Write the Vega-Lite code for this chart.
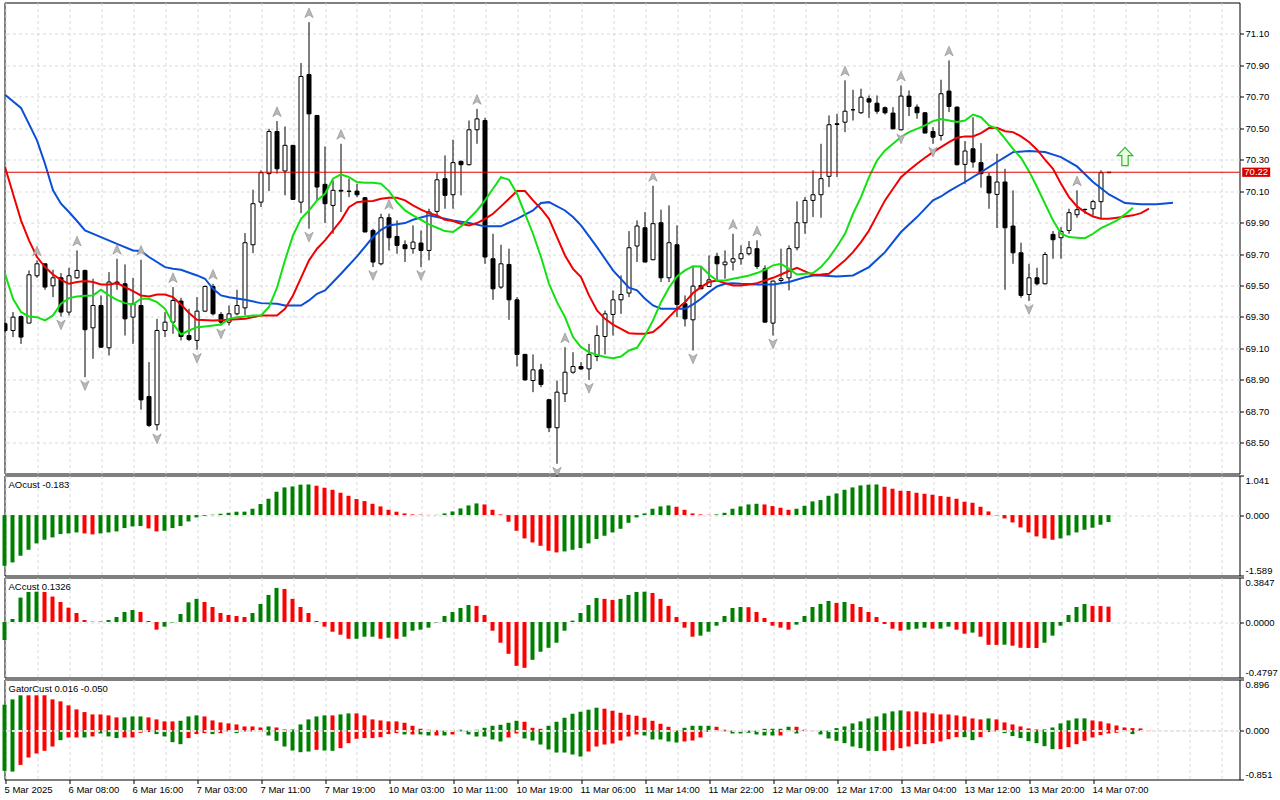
{
  "$schema": "https://vega.github.io/schema/vega-lite/v6.json",
  "background": "#ffffff",
  "padding": {"left": 1.5, "top": 1.5, "right": 0, "bottom": 0},
  "spacing": 2,
  "bounds": "flush",
  "config": {
    "view": {"stroke": "#000000", "strokeWidth": 1},
    "font": "Liberation Sans",
    "scale": {"continuousPadding": 0},
    "axis": {
      "labelFont": "Liberation Sans",
      "labelFontSize": 9.5,
      "labelColor": "#000000",
      "tickColor": "#000000",
      "tickSize": 4,
      "tickCount": 200,
      "gridColor": "#d9d9d9",
      "gridDash": [3, 3],
      "domain": false,
      "labelOverlap": false
    }
  },
  "datasets": {
    "candles": [
      {"i":0,"o":69.257,"h":69.267,"l":69.204,"c":69.214},
      {"i":1,"o":69.214,"h":69.331,"l":69.172,"c":69.299},
      {"i":2,"o":69.303,"h":69.310,"l":69.129,"c":69.172},
      {"i":3,"o":69.261,"h":69.596,"l":69.261,"c":69.568},
      {"i":4,"o":69.562,"h":69.660,"l":69.549,"c":69.638,"fu":1},
      {"i":5,"o":69.638,"h":69.638,"l":69.473,"c":69.490},
      {"i":6,"o":69.498,"h":69.600,"l":69.426,"c":69.549},
      {"i":7,"o":69.549,"h":69.579,"l":69.303,"c":69.331,"fd":1},
      {"i":8,"o":69.331,"h":69.613,"l":69.310,"c":69.562},
      {"i":9,"o":69.549,"h":69.723,"l":69.543,"c":69.596,"fu":1},
      {"i":10,"o":69.596,"h":69.600,"l":68.917,"c":69.219,"fd":1},
      {"i":11,"o":69.231,"h":69.543,"l":69.034,"c":69.373},
      {"i":12,"o":69.373,"h":69.437,"l":69.104,"c":69.108},
      {"i":13,"o":69.104,"h":69.585,"l":69.055,"c":69.522},
      {"i":14,"o":69.522,"h":69.670,"l":69.473,"c":69.511,"fu":1},
      {"i":15,"o":69.511,"h":69.634,"l":69.182,"c":69.288},
      {"i":16,"o":69.299,"h":69.549,"l":69.129,"c":69.384},
      {"i":17,"o":69.373,"h":69.664,"l":68.711,"c":68.773,"fu":1},
      {"i":18,"o":68.794,"h":69.013,"l":68.600,"c":68.611},
      {"i":19,"o":68.615,"h":69.288,"l":68.579,"c":69.214,"fd":1},
      {"i":20,"o":69.214,"h":69.331,"l":69.172,"c":69.267},
      {"i":21,"o":69.267,"h":69.490,"l":69.193,"c":69.405,"fu":1},
      {"i":22,"o":69.401,"h":69.422,"l":69.151,"c":69.176},
      {"i":23,"o":69.182,"h":69.352,"l":69.146,"c":69.157},
      {"i":24,"o":69.151,"h":69.426,"l":69.091,"c":69.337,"fd":1},
      {"i":25,"o":69.337,"h":69.500,"l":69.331,"c":69.494},
      {"i":26,"o":69.494,"h":69.511,"l":69.310,"c":69.320,"fu":1},
      {"i":27,"o":69.316,"h":69.331,"l":69.246,"c":69.267,"fd":1},
      {"i":28,"o":69.267,"h":69.373,"l":69.246,"c":69.320},
      {"i":29,"o":69.320,"h":69.473,"l":69.310,"c":69.373},
      {"i":30,"o":69.358,"h":69.833,"l":69.310,"c":69.772},
      {"i":31,"o":69.759,"h":70.109,"l":69.706,"c":70.020},
      {"i":32,"o":70.030,"h":70.232,"l":69.999,"c":70.217},
      {"i":33,"o":70.211,"h":70.496,"l":70.100,"c":70.479},
      {"i":34,"o":70.479,"h":70.545,"l":70.211,"c":70.242,"fu":1},
      {"i":35,"o":70.228,"h":70.511,"l":70.073,"c":70.391},
      {"i":36,"o":70.391,"h":70.391,"l":70.047,"c":70.047},
      {"i":37,"o":70.030,"h":70.914,"l":69.960,"c":70.829},
      {"i":38,"o":70.841,"h":71.174,"l":69.861,"c":70.591,"fu":1,"fd":1},
      {"i":39,"o":70.581,"h":70.581,"l":70.041,"c":70.126},
      {"i":40,"o":70.143,"h":70.384,"l":69.897,"c":70.020},
      {"i":41,"o":70.009,"h":70.168,"l":69.829,"c":70.105},
      {"i":42,"o":70.105,"h":70.401,"l":69.967,"c":70.100,"fu":1},
      {"i":43,"o":70.100,"h":70.179,"l":70.062,"c":70.098},
      {"i":44,"o":70.100,"h":70.147,"l":70.062,"c":70.077},
      {"i":45,"o":70.058,"h":70.062,"l":69.840,"c":69.840},
      {"i":46,"o":69.850,"h":69.861,"l":69.617,"c":69.649,"fd":1},
      {"i":47,"o":69.638,"h":69.956,"l":69.628,"c":69.931},
      {"i":48,"o":69.931,"h":69.956,"l":69.723,"c":69.804,"fu":1},
      {"i":49,"o":69.812,"h":69.914,"l":69.702,"c":69.755},
      {"i":50,"o":69.759,"h":69.787,"l":69.649,"c":69.734},
      {"i":51,"o":69.734,"h":69.882,"l":69.702,"c":69.776},
      {"i":52,"o":69.770,"h":69.850,"l":69.617,"c":69.723,"fd":1},
      {"i":53,"o":69.723,"h":69.988,"l":69.660,"c":69.967},
      {"i":54,"o":69.971,"h":70.215,"l":69.935,"c":70.172},
      {"i":55,"o":70.179,"h":70.327,"l":69.988,"c":70.073},
      {"i":56,"o":70.077,"h":70.427,"l":69.988,"c":70.281},
      {"i":57,"o":70.289,"h":70.295,"l":70.073,"c":70.268},
      {"i":58,"o":70.268,"h":70.549,"l":70.263,"c":70.490},
      {"i":59,"o":70.490,"h":70.623,"l":70.401,"c":70.559,"fu":1},
      {"i":60,"o":70.549,"h":70.566,"l":69.638,"c":69.681},
      {"i":61,"o":69.670,"h":69.829,"l":69.409,"c":69.479},
      {"i":62,"o":69.490,"h":69.759,"l":69.479,"c":69.638},
      {"i":63,"o":69.634,"h":69.734,"l":69.282,"c":69.409},
      {"i":64,"o":69.409,"h":69.426,"l":68.985,"c":69.062},
      {"i":65,"o":69.062,"h":69.066,"l":68.896,"c":68.900},
      {"i":66,"o":68.896,"h":69.062,"l":68.822,"c":68.964},
      {"i":67,"o":68.964,"h":69.002,"l":68.854,"c":68.871},
      {"i":68,"o":68.774,"h":68.780,"l":68.568,"c":68.596},
      {"i":69,"o":68.596,"h":68.896,"l":68.367,"c":68.822,"fd":1},
      {"i":70,"o":68.812,"h":69.108,"l":68.759,"c":68.949,"fu":1},
      {"i":71,"o":68.949,"h":69.076,"l":68.939,"c":68.985},
      {"i":72,"o":68.985,"h":69.013,"l":68.964,"c":68.970},
      {"i":73,"o":68.970,"h":69.129,"l":68.900,"c":69.062,"fd":1},
      {"i":74,"o":69.049,"h":69.246,"l":69.019,"c":69.182},
      {"i":75,"o":69.176,"h":69.341,"l":69.062,"c":69.320},
      {"i":76,"o":69.316,"h":69.469,"l":69.182,"c":69.409},
      {"i":77,"o":69.409,"h":69.564,"l":69.320,"c":69.443},
      {"i":78,"o":69.452,"h":69.846,"l":69.426,"c":69.740},
      {"i":79,"o":69.751,"h":69.914,"l":69.649,"c":69.878},
      {"i":80,"o":69.867,"h":69.967,"l":69.649,"c":69.649},
      {"i":81,"o":69.664,"h":70.134,"l":69.660,"c":69.893,"fu":1},
      {"i":82,"o":69.899,"h":69.982,"l":69.522,"c":69.549},
      {"i":83,"o":69.549,"h":70.009,"l":69.522,"c":69.772},
      {"i":84,"o":69.759,"h":69.882,"l":69.299,"c":69.380},
      {"i":85,"o":69.384,"h":69.437,"l":69.240,"c":69.288},
      {"i":86,"o":69.282,"h":69.617,"l":69.087,"c":69.496,"fd":1},
      {"i":87,"o":69.500,"h":69.617,"l":69.479,"c":69.479},
      {"i":88,"o":69.494,"h":69.691,"l":69.490,"c":69.536},
      {"i":89,"o":69.685,"h":69.708,"l":69.532,"c":69.638},
      {"i":90,"o":69.632,"h":69.723,"l":69.543,"c":69.649},
      {"i":91,"o":69.649,"h":69.829,"l":69.596,"c":69.670,"fu":1},
      {"i":92,"o":69.670,"h":69.755,"l":69.632,"c":69.702},
      {"i":93,"o":69.702,"h":69.782,"l":69.691,"c":69.740},
      {"i":94,"o":69.734,"h":69.787,"l":69.606,"c":69.621,"fu":1},
      {"i":95,"o":69.606,"h":69.628,"l":69.267,"c":69.267},
      {"i":96,"o":69.261,"h":69.532,"l":69.182,"c":69.528,"fd":1},
      {"i":97,"o":69.532,"h":69.734,"l":69.511,"c":69.543},
      {"i":98,"o":69.549,"h":69.755,"l":69.469,"c":69.734},
      {"i":99,"o":69.740,"h":70.035,"l":69.723,"c":69.899},
      {"i":100,"o":69.899,"h":70.062,"l":69.829,"c":70.041},
      {"i":101,"o":70.041,"h":70.232,"l":69.935,"c":70.077},
      {"i":102,"o":70.077,"h":70.401,"l":69.931,"c":70.179},
      {"i":103,"o":70.194,"h":70.581,"l":70.126,"c":70.522},
      {"i":104,"o":70.528,"h":70.591,"l":70.190,"c":70.524},
      {"i":105,"o":70.538,"h":70.804,"l":70.475,"c":70.608,"fu":1},
      {"i":106,"o":70.617,"h":70.744,"l":70.549,"c":70.617},
      {"i":107,"o":70.598,"h":70.751,"l":70.591,"c":70.697},
      {"i":108,"o":70.687,"h":70.708,"l":70.566,"c":70.666},
      {"i":109,"o":70.659,"h":70.708,"l":70.591,"c":70.608},
      {"i":110,"o":70.630,"h":70.638,"l":70.587,"c":70.598},
      {"i":111,"o":70.596,"h":70.634,"l":70.492,"c":70.496},
      {"i":112,"o":70.490,"h":70.772,"l":70.486,"c":70.704,"fu":1,"fd":1},
      {"i":113,"o":70.704,"h":70.740,"l":70.577,"c":70.638},
      {"i":114,"o":70.634,"h":70.651,"l":70.560,"c":70.598},
      {"i":115,"o":70.598,"h":70.602,"l":70.469,"c":70.469},
      {"i":116,"o":70.479,"h":70.507,"l":70.401,"c":70.443,"fd":1},
      {"i":117,"o":70.454,"h":70.808,"l":70.422,"c":70.719},
      {"i":118,"o":70.736,"h":70.931,"l":70.602,"c":70.638,"fu":1},
      {"i":119,"o":70.634,"h":70.638,"l":70.263,"c":70.268},
      {"i":120,"o":70.270,"h":70.418,"l":70.147,"c":70.355},
      {"i":121,"o":70.369,"h":70.570,"l":70.249,"c":70.285},
      {"i":122,"o":70.281,"h":70.405,"l":70.122,"c":70.211},
      {"i":123,"o":70.194,"h":70.215,"l":69.988,"c":70.088},
      {"i":124,"o":70.079,"h":70.337,"l":69.865,"c":70.158},
      {"i":125,"o":70.158,"h":70.242,"l":69.473,"c":69.867},
      {"i":126,"o":69.878,"h":70.105,"l":69.638,"c":69.708},
      {"i":127,"o":69.708,"h":69.772,"l":69.422,"c":69.437},
      {"i":128,"o":69.443,"h":69.638,"l":69.401,"c":69.549,"fd":1},
      {"i":129,"o":69.549,"h":69.613,"l":69.500,"c":69.511},
      {"i":130,"o":69.511,"h":69.712,"l":69.507,"c":69.697},
      {"i":131,"o":69.825,"h":69.846,"l":69.670,"c":69.791},
      {"i":132,"o":69.804,"h":69.871,"l":69.670,"c":69.844},
      {"i":133,"o":69.850,"h":69.988,"l":69.829,"c":69.963},
      {"i":134,"o":69.950,"h":70.105,"l":69.931,"c":69.982,"fu":1},
      {"i":135,"o":69.982,"h":69.988,"l":69.956,"c":69.984},
      {"i":136,"o":69.988,"h":70.045,"l":69.946,"c":70.033},
      {"i":137,"o":70.033,"h":70.232,"l":69.925,"c":70.217},
      {"i":138,"o":70.217,"h":70.222,"l":70.215,"c":70.220}
    ],
    "jaw": [
      {"i":0,"v":70.712},{"i":2,"v":70.629},{"i":4,"v":70.423},{"i":5,"v":70.274},{"i":6,"v":70.105},{"i":7,"v":70.020},{"i":8,"v":69.967},{"i":9,"v":69.910},{"i":10,"v":69.850},{"i":12,"v":69.808},{"i":14,"v":69.765},{"i":16,"v":69.723},{"i":17,"v":69.719},{"i":18,"v":69.681},{"i":20,"v":69.617},{"i":21,"v":69.606},{"i":22,"v":69.600},{"i":24,"v":69.564},{"i":25,"v":69.543},{"i":26,"v":69.479},{"i":27,"v":69.437},{"i":28,"v":69.426},{"i":30,"v":69.409},{"i":32,"v":69.388},{"i":34,"v":69.384},{"i":35,"v":69.373},{"i":37,"v":69.373},{"i":38,"v":69.405},{"i":39,"v":69.447},{"i":40,"v":69.469},{"i":42,"v":69.575},{"i":44,"v":69.685},{"i":46,"v":69.808},{"i":47,"v":69.854},{"i":48,"v":69.882},{"i":50,"v":69.897},{"i":51,"v":69.918},{"i":53,"v":69.946},{"i":54,"v":69.935},{"i":56,"v":69.914},{"i":58,"v":69.897},{"i":60,"v":69.876},{"i":62,"v":69.876},{"i":64,"v":69.924},{"i":66,"v":69.977},{"i":67,"v":70.024},{"i":68,"v":70.030},{"i":70,"v":69.977},{"i":71,"v":69.935},{"i":72,"v":69.882},{"i":74,"v":69.744},{"i":76,"v":69.596},{"i":78,"v":69.486},{"i":79,"v":69.469},{"i":80,"v":69.416},{"i":81,"v":69.373},{"i":82,"v":69.352},{"i":84,"v":69.352},{"i":85,"v":69.352},{"i":86,"v":69.380},{"i":87,"v":69.416},{"i":88,"v":69.458},{"i":89,"v":69.494},{"i":90,"v":69.511},{"i":91,"v":69.515},{"i":92,"v":69.511},{"i":94,"v":69.507},{"i":96,"v":69.507},{"i":98,"v":69.522},{"i":100,"v":69.553},{"i":101,"v":69.564},{"i":102,"v":69.564},{"i":104,"v":69.558},{"i":106,"v":69.564},{"i":108,"v":69.617},{"i":110,"v":69.712},{"i":112,"v":69.840},{"i":114,"v":69.935},{"i":116,"v":70.041},{"i":117,"v":70.066},{"i":118,"v":70.100},{"i":120,"v":70.158},{"i":122,"v":70.221},{"i":124,"v":70.285},{"i":125,"v":70.316},{"i":126,"v":70.348},{"i":128,"v":70.355},{"i":130,"v":70.348},{"i":132,"v":70.316},{"i":134,"v":70.257},{"i":136,"v":70.158},{"i":138,"v":70.079},{"i":140,"v":70.024},{"i":142,"v":70.016},{"i":144,"v":70.016},{"i":146,"v":70.026}
    ],
    "teeth": [
      {"i":0,"v":70.253},{"i":1,"v":70.083},{"i":2,"v":69.914},{"i":3,"v":69.787},{"i":4,"v":69.681},{"i":5,"v":69.617},{"i":6,"v":69.570},{"i":7,"v":69.536},{"i":8,"v":69.511},{"i":9,"v":69.522},{"i":10,"v":69.528},{"i":11,"v":69.522},{"i":12,"v":69.507},{"i":13,"v":69.507},{"i":14,"v":69.515},{"i":15,"v":69.490},{"i":16,"v":69.464},{"i":17,"v":69.437},{"i":18,"v":69.430},{"i":19,"v":69.443},{"i":20,"v":69.443},{"i":21,"v":69.426},{"i":22,"v":69.380},{"i":23,"v":69.325},{"i":24,"v":69.282},{"i":26,"v":69.278},{"i":28,"v":69.282},{"i":30,"v":69.288},{"i":32,"v":69.310},{"i":34,"v":69.310},{"i":35,"v":69.352},{"i":36,"v":69.437},{"i":37,"v":69.549},{"i":38,"v":69.660},{"i":39,"v":69.734},{"i":40,"v":69.787},{"i":41,"v":69.850},{"i":42,"v":69.914},{"i":43,"v":69.998},{"i":44,"v":70.030},{"i":45,"v":70.035},{"i":46,"v":70.037},{"i":47,"v":70.052},{"i":48,"v":70.058},{"i":49,"v":70.058},{"i":50,"v":70.041},{"i":51,"v":70.009},{"i":52,"v":69.982},{"i":53,"v":69.960},{"i":54,"v":69.946},{"i":55,"v":69.918},{"i":56,"v":69.910},{"i":57,"v":69.893},{"i":58,"v":69.882},{"i":59,"v":69.897},{"i":60,"v":69.924},{"i":61,"v":69.956},{"i":62,"v":70.003},{"i":63,"v":70.052},{"i":64,"v":70.100},{"i":65,"v":70.100},{"i":66,"v":70.041},{"i":67,"v":69.988},{"i":68,"v":69.924},{"i":69,"v":69.808},{"i":70,"v":69.691},{"i":71,"v":69.606},{"i":72,"v":69.553},{"i":73,"v":69.437},{"i":74,"v":69.341},{"i":75,"v":69.288},{"i":76,"v":69.252},{"i":77,"v":69.225},{"i":78,"v":69.197},{"i":79,"v":69.193},{"i":80,"v":69.193},{"i":81,"v":69.204},{"i":82,"v":69.246},{"i":83,"v":69.299},{"i":84,"v":69.352},{"i":85,"v":69.394},{"i":86,"v":69.452},{"i":87,"v":69.490},{"i":88,"v":69.522},{"i":89,"v":69.532},{"i":90,"v":69.515},{"i":91,"v":69.500},{"i":92,"v":69.500},{"i":93,"v":69.507},{"i":94,"v":69.515},{"i":95,"v":69.532},{"i":96,"v":69.549},{"i":97,"v":69.570},{"i":98,"v":69.592},{"i":99,"v":69.612},{"i":100,"v":69.590},{"i":101,"v":69.568},{"i":102,"v":69.570},{"i":103,"v":69.575},{"i":104,"v":69.617},{"i":105,"v":69.660},{"i":106,"v":69.712},{"i":107,"v":69.776},{"i":108,"v":69.850},{"i":109,"v":69.946},{"i":110,"v":70.041},{"i":111,"v":70.115},{"i":112,"v":70.189},{"i":113,"v":70.232},{"i":114,"v":70.274},{"i":115,"v":70.312},{"i":116,"v":70.348},{"i":117,"v":70.380},{"i":118,"v":70.412},{"i":119,"v":70.439},{"i":120,"v":70.448},{"i":121,"v":70.448},{"i":122,"v":70.469},{"i":123,"v":70.501},{"i":124,"v":70.503},{"i":125,"v":70.481},{"i":126,"v":70.475},{"i":127,"v":70.448},{"i":128,"v":70.412},{"i":129,"v":70.363},{"i":130,"v":70.300},{"i":131,"v":70.242},{"i":132,"v":70.147},{"i":133,"v":70.062},{"i":134,"v":70.003},{"i":135,"v":69.967},{"i":136,"v":69.939},{"i":137,"v":69.924},{"i":138,"v":69.924},{"i":139,"v":69.931},{"i":140,"v":69.939},{"i":141,"v":69.946},{"i":142,"v":69.960},{"i":143,"v":69.988}
    ],
    "lips": [
      {"i":0,"v":69.575},{"i":1,"v":69.416},{"i":2,"v":69.331},{"i":3,"v":69.303},{"i":4,"v":69.299},{"i":5,"v":69.278},{"i":6,"v":69.310},{"i":7,"v":69.384},{"i":8,"v":69.420},{"i":9,"v":69.430},{"i":10,"v":69.435},{"i":11,"v":69.437},{"i":12,"v":69.473},{"i":13,"v":69.437},{"i":14,"v":69.409},{"i":15,"v":69.388},{"i":16,"v":69.380},{"i":17,"v":69.416},{"i":18,"v":69.416},{"i":19,"v":69.394},{"i":20,"v":69.352},{"i":21,"v":69.257},{"i":22,"v":69.189},{"i":23,"v":69.214},{"i":24,"v":69.235},{"i":25,"v":69.240},{"i":26,"v":69.246},{"i":27,"v":69.252},{"i":28,"v":69.288},{"i":29,"v":69.299},{"i":30,"v":69.303},{"i":31,"v":69.310},{"i":32,"v":69.310},{"i":33,"v":69.363},{"i":34,"v":69.486},{"i":35,"v":69.660},{"i":36,"v":69.818},{"i":37,"v":69.924},{"i":38,"v":69.977},{"i":39,"v":70.041},{"i":40,"v":70.083},{"i":41,"v":70.179},{"i":42,"v":70.206},{"i":43,"v":70.189},{"i":44,"v":70.158},{"i":45,"v":70.153},{"i":46,"v":70.153},{"i":47,"v":70.147},{"i":48,"v":70.100},{"i":49,"v":70.030},{"i":50,"v":69.977},{"i":51,"v":69.946},{"i":52,"v":69.918},{"i":53,"v":69.889},{"i":54,"v":69.867},{"i":55,"v":69.846},{"i":56,"v":69.840},{"i":57,"v":69.876},{"i":58,"v":69.924},{"i":59,"v":69.977},{"i":60,"v":70.041},{"i":61,"v":70.115},{"i":62,"v":70.189},{"i":63,"v":70.172},{"i":64,"v":70.083},{"i":65,"v":69.956},{"i":66,"v":69.829},{"i":67,"v":69.681},{"i":68,"v":69.511},{"i":69,"v":69.394},{"i":70,"v":69.299},{"i":71,"v":69.172},{"i":72,"v":69.108},{"i":73,"v":69.076},{"i":74,"v":69.059},{"i":75,"v":69.045},{"i":76,"v":69.038},{"i":77,"v":69.049},{"i":78,"v":69.087},{"i":79,"v":69.104},{"i":80,"v":69.182},{"i":81,"v":69.278},{"i":82,"v":69.394},{"i":83,"v":69.486},{"i":84,"v":69.558},{"i":85,"v":69.596},{"i":86,"v":69.623},{"i":87,"v":69.621},{"i":88,"v":69.570},{"i":89,"v":69.532},{"i":90,"v":69.532},{"i":91,"v":69.543},{"i":92,"v":69.553},{"i":93,"v":69.564},{"i":94,"v":69.579},{"i":95,"v":69.600},{"i":96,"v":69.628},{"i":97,"v":69.638},{"i":98,"v":69.606},{"i":99,"v":69.570},{"i":100,"v":69.575},{"i":101,"v":69.579},{"i":102,"v":69.617},{"i":103,"v":69.676},{"i":104,"v":69.748},{"i":105,"v":69.829},{"i":106,"v":69.956},{"i":107,"v":70.062},{"i":108,"v":70.189},{"i":109,"v":70.295},{"i":110,"v":70.359},{"i":111,"v":70.401},{"i":112,"v":70.444},{"i":113,"v":70.475},{"i":114,"v":70.496},{"i":115,"v":70.518},{"i":116,"v":70.545},{"i":117,"v":70.558},{"i":118,"v":70.549},{"i":119,"v":70.539},{"i":120,"v":70.549},{"i":121,"v":70.587},{"i":122,"v":70.570},{"i":123,"v":70.518},{"i":124,"v":70.496},{"i":125,"v":70.433},{"i":126,"v":70.369},{"i":127,"v":70.312},{"i":128,"v":70.227},{"i":129,"v":70.126},{"i":130,"v":70.020},{"i":131,"v":69.914},{"i":132,"v":69.829},{"i":133,"v":69.808},{"i":134,"v":69.804},{"i":135,"v":69.801},{"i":136,"v":69.829},{"i":137,"v":69.865},{"i":138,"v":69.889},{"i":139,"v":69.914},{"i":140,"v":69.952},{"i":141,"v":69.994}
    ],
    "bid": [{"p": 70.22, "label": "70.22"}],
    "signals": [{"i": 140, "p": 70.32}],
    "ao": [
      {"i":0,"v":-1.333,"d":"g"},{"i":1,"v":-1.245,"d":"g"},{"i":2,"v":-1.07,"d":"g"},{"i":3,"v":-0.912,"d":"g"},{"i":4,"v":-0.745,"d":"g"},{"i":5,"v":-0.649,"d":"g"},{"i":6,"v":-0.587,"d":"g"},{"i":7,"v":-0.5,"d":"g"},{"i":8,"v":-0.482,"d":"g"},{"i":9,"v":-0.456,"d":"g"},{"i":10,"v":-0.482,"d":"r"},{"i":11,"v":-0.508,"d":"r"},{"i":12,"v":-0.482,"d":"g"},{"i":13,"v":-0.456,"d":"g"},{"i":14,"v":-0.43,"d":"g"},{"i":15,"v":-0.342,"d":"g"},{"i":16,"v":-0.298,"d":"g"},{"i":17,"v":-0.289,"d":"g"},{"i":18,"v":-0.351,"d":"r"},{"i":19,"v":-0.43,"d":"r"},{"i":20,"v":-0.412,"d":"g"},{"i":21,"v":-0.342,"d":"g"},{"i":22,"v":-0.289,"d":"g"},{"i":23,"v":-0.167,"d":"g"},{"i":24,"v":-0.061,"d":"g"},{"i":25,"v":-0.02,"d":"g"},{"i":26,"v":0.01,"d":"g"},{"i":27,"v":0.035,"d":"g"},{"i":28,"v":0.06,"d":"g"},{"i":29,"v":0.088,"d":"g"},{"i":30,"v":0.09,"d":"g"},{"i":31,"v":0.167,"d":"g"},{"i":32,"v":0.29,"d":"g"},{"i":33,"v":0.43,"d":"g"},{"i":34,"v":0.614,"d":"g"},{"i":35,"v":0.728,"d":"g"},{"i":36,"v":0.754,"d":"g"},{"i":37,"v":0.8,"d":"g"},{"i":38,"v":0.805,"d":"g"},{"i":39,"v":0.772,"d":"r"},{"i":40,"v":0.719,"d":"r"},{"i":41,"v":0.666,"d":"r"},{"i":42,"v":0.587,"d":"r"},{"i":43,"v":0.508,"d":"r"},{"i":44,"v":0.421,"d":"r"},{"i":45,"v":0.368,"d":"r"},{"i":46,"v":0.298,"d":"r"},{"i":47,"v":0.228,"d":"r"},{"i":48,"v":0.14,"d":"r"},{"i":49,"v":0.088,"d":"r"},{"i":50,"v":0.044,"d":"r"},{"i":51,"v":0.018,"d":"r"},{"i":52,"v":0.01,"d":"r"},{"i":53,"v":0.005,"d":"r"},{"i":54,"v":0.006,"d":"g"},{"i":55,"v":0.044,"d":"g"},{"i":56,"v":0.096,"d":"g"},{"i":57,"v":0.175,"d":"g"},{"i":58,"v":0.254,"d":"g"},{"i":59,"v":0.307,"d":"g"},{"i":60,"v":0.28,"d":"r"},{"i":61,"v":0.14,"d":"r"},{"i":62,"v":0.018,"d":"r"},{"i":63,"v":-0.175,"d":"r"},{"i":64,"v":-0.412,"d":"r"},{"i":65,"v":-0.614,"d":"r"},{"i":66,"v":-0.719,"d":"r"},{"i":67,"v":-0.807,"d":"r"},{"i":68,"v":-0.938,"d":"r"},{"i":69,"v":-0.982,"d":"r"},{"i":70,"v":-0.956,"d":"g"},{"i":71,"v":-0.912,"d":"g"},{"i":72,"v":-0.868,"d":"g"},{"i":73,"v":-0.745,"d":"g"},{"i":74,"v":-0.631,"d":"g"},{"i":75,"v":-0.544,"d":"g"},{"i":76,"v":-0.456,"d":"g"},{"i":77,"v":-0.36,"d":"g"},{"i":78,"v":-0.202,"d":"g"},{"i":79,"v":-0.061,"d":"g"},{"i":80,"v":0.044,"d":"g"},{"i":81,"v":0.167,"d":"g"},{"i":82,"v":0.228,"d":"g"},{"i":83,"v":0.254,"d":"g"},{"i":84,"v":0.219,"d":"r"},{"i":85,"v":0.14,"d":"r"},{"i":86,"v":0.044,"d":"r"},{"i":87,"v":0.018,"d":"r"},{"i":88,"v":0.008,"d":"r"},{"i":89,"v":0.018,"d":"g"},{"i":90,"v":0.06,"d":"g"},{"i":91,"v":0.167,"d":"g"},{"i":92,"v":0.228,"d":"g"},{"i":93,"v":0.28,"d":"g"},{"i":94,"v":0.298,"d":"g"},{"i":95,"v":0.28,"d":"r"},{"i":96,"v":0.237,"d":"r"},{"i":97,"v":0.193,"d":"r"},{"i":98,"v":0.14,"d":"r"},{"i":99,"v":0.167,"d":"g"},{"i":100,"v":0.245,"d":"g"},{"i":101,"v":0.36,"d":"g"},{"i":102,"v":0.395,"d":"g"},{"i":103,"v":0.508,"d":"g"},{"i":104,"v":0.57,"d":"g"},{"i":105,"v":0.666,"d":"g"},{"i":106,"v":0.728,"d":"g"},{"i":107,"v":0.78,"d":"g"},{"i":108,"v":0.8,"d":"g"},{"i":109,"v":0.805,"d":"g"},{"i":110,"v":0.745,"d":"r"},{"i":111,"v":0.693,"d":"r"},{"i":112,"v":0.64,"d":"r"},{"i":113,"v":0.635,"d":"r"},{"i":114,"v":0.587,"d":"r"},{"i":115,"v":0.561,"d":"r"},{"i":116,"v":0.535,"d":"r"},{"i":117,"v":0.5,"d":"r"},{"i":118,"v":0.482,"d":"r"},{"i":119,"v":0.43,"d":"r"},{"i":120,"v":0.351,"d":"r"},{"i":121,"v":0.324,"d":"r"},{"i":122,"v":0.219,"d":"r"},{"i":123,"v":0.096,"d":"r"},{"i":124,"v":-0.01,"d":"r"},{"i":125,"v":-0.088,"d":"r"},{"i":126,"v":-0.193,"d":"r"},{"i":127,"v":-0.324,"d":"r"},{"i":128,"v":-0.456,"d":"r"},{"i":129,"v":-0.561,"d":"r"},{"i":130,"v":-0.614,"d":"r"},{"i":131,"v":-0.649,"d":"r"},{"i":132,"v":-0.614,"d":"g"},{"i":133,"v":-0.535,"d":"g"},{"i":134,"v":-0.456,"d":"g"},{"i":135,"v":-0.386,"d":"g"},{"i":136,"v":-0.333,"d":"g"},{"i":137,"v":-0.254,"d":"g"},{"i":138,"v":-0.183,"d":"g"}
    ],
    "ac": [
      {"i":0,"v":-0.156,"d":"g"},{"i":1,"v":0.026,"d":"g"},{"i":2,"v":0.211,"d":"g"},{"i":3,"v":0.26,"d":"g"},{"i":4,"v":0.262,"d":"g"},{"i":5,"v":0.26,"d":"r"},{"i":6,"v":0.22,"d":"r"},{"i":7,"v":0.173,"d":"r"},{"i":8,"v":0.124,"d":"r"},{"i":9,"v":0.078,"d":"r"},{"i":10,"v":0.017,"d":"r"},{"i":11,"v":0.003,"d":"r"},{"i":12,"v":0.004,"d":"g"},{"i":13,"v":0.017,"d":"g"},{"i":14,"v":0.043,"d":"g"},{"i":15,"v":0.087,"d":"g"},{"i":16,"v":0.104,"d":"g"},{"i":17,"v":0.087,"d":"r"},{"i":18,"v":0.009,"d":"r"},{"i":19,"v":-0.066,"d":"r"},{"i":20,"v":-0.04,"d":"g"},{"i":21,"v":-0.004,"d":"g"},{"i":22,"v":0.069,"d":"g"},{"i":23,"v":0.17,"d":"g"},{"i":24,"v":0.2,"d":"g"},{"i":25,"v":0.173,"d":"r"},{"i":26,"v":0.13,"d":"r"},{"i":27,"v":0.078,"d":"r"},{"i":28,"v":0.061,"d":"r"},{"i":29,"v":0.052,"d":"r"},{"i":30,"v":0.043,"d":"r"},{"i":31,"v":0.078,"d":"g"},{"i":32,"v":0.156,"d":"g"},{"i":33,"v":0.234,"d":"g"},{"i":34,"v":0.295,"d":"g"},{"i":35,"v":0.286,"d":"r"},{"i":36,"v":0.2,"d":"r"},{"i":37,"v":0.13,"d":"r"},{"i":38,"v":0.078,"d":"r"},{"i":39,"v":0.009,"d":"r"},{"i":40,"v":-0.04,"d":"r"},{"i":41,"v":-0.084,"d":"r"},{"i":42,"v":-0.11,"d":"r"},{"i":43,"v":-0.145,"d":"r"},{"i":44,"v":-0.145,"d":"g"},{"i":45,"v":-0.127,"d":"g"},{"i":46,"v":-0.127,"d":"g"},{"i":47,"v":-0.145,"d":"r"},{"i":48,"v":-0.136,"d":"g"},{"i":49,"v":-0.145,"d":"r"},{"i":50,"v":-0.127,"d":"g"},{"i":51,"v":-0.075,"d":"g"},{"i":52,"v":-0.066,"d":"g"},{"i":53,"v":-0.049,"d":"g"},{"i":54,"v":-0.004,"d":"g"},{"i":55,"v":0.052,"d":"g"},{"i":56,"v":0.087,"d":"g"},{"i":57,"v":0.121,"d":"g"},{"i":58,"v":0.147,"d":"g"},{"i":59,"v":0.139,"d":"r"},{"i":60,"v":0.061,"d":"r"},{"i":61,"v":-0.075,"d":"r"},{"i":62,"v":-0.179,"d":"r"},{"i":63,"v":-0.275,"d":"r"},{"i":64,"v":-0.379,"d":"r"},{"i":65,"v":-0.396,"d":"r"},{"i":66,"v":-0.327,"d":"g"},{"i":67,"v":-0.257,"d":"g"},{"i":68,"v":-0.223,"d":"g"},{"i":69,"v":-0.179,"d":"g"},{"i":70,"v":-0.075,"d":"g"},{"i":71,"v":0.012,"d":"g"},{"i":72,"v":0.078,"d":"g"},{"i":73,"v":0.147,"d":"g"},{"i":74,"v":0.208,"d":"g"},{"i":75,"v":0.2,"d":"r"},{"i":76,"v":0.191,"d":"r"},{"i":77,"v":0.2,"d":"g"},{"i":78,"v":0.234,"d":"g"},{"i":79,"v":0.26,"d":"g"},{"i":80,"v":0.262,"d":"g"},{"i":81,"v":0.251,"d":"r"},{"i":82,"v":0.2,"d":"r"},{"i":83,"v":0.139,"d":"r"},{"i":84,"v":0.043,"d":"r"},{"i":85,"v":-0.049,"d":"r"},{"i":86,"v":-0.127,"d":"r"},{"i":87,"v":-0.118,"d":"g"},{"i":88,"v":-0.084,"d":"g"},{"i":89,"v":-0.032,"d":"g"},{"i":90,"v":0.052,"d":"g"},{"i":91,"v":0.121,"d":"g"},{"i":92,"v":0.13,"d":"g"},{"i":93,"v":0.128,"d":"r"},{"i":94,"v":0.087,"d":"r"},{"i":95,"v":0.035,"d":"r"},{"i":96,"v":-0.032,"d":"r"},{"i":97,"v":-0.049,"d":"r"},{"i":98,"v":-0.066,"d":"r"},{"i":99,"v":-0.023,"d":"g"},{"i":100,"v":0.052,"d":"g"},{"i":101,"v":0.13,"d":"g"},{"i":102,"v":0.156,"d":"g"},{"i":103,"v":0.182,"d":"g"},{"i":104,"v":0.165,"d":"r"},{"i":105,"v":0.173,"d":"g"},{"i":106,"v":0.156,"d":"r"},{"i":107,"v":0.13,"d":"r"},{"i":108,"v":0.087,"d":"r"},{"i":109,"v":0.043,"d":"r"},{"i":110,"v":-0.017,"d":"r"},{"i":111,"v":-0.058,"d":"r"},{"i":112,"v":-0.075,"d":"r"},{"i":113,"v":-0.066,"d":"g"},{"i":114,"v":-0.058,"d":"g"},{"i":115,"v":-0.049,"d":"g"},{"i":116,"v":-0.058,"d":"r"},{"i":117,"v":-0.057,"d":"g"},{"i":118,"v":-0.04,"d":"g"},{"i":119,"v":-0.066,"d":"r"},{"i":120,"v":-0.101,"d":"r"},{"i":121,"v":-0.092,"d":"g"},{"i":122,"v":-0.127,"d":"r"},{"i":123,"v":-0.197,"d":"r"},{"i":124,"v":-0.198,"d":"r"},{"i":125,"v":-0.196,"d":"g"},{"i":126,"v":-0.205,"d":"r"},{"i":127,"v":-0.223,"d":"r"},{"i":128,"v":-0.224,"d":"r"},{"i":129,"v":-0.225,"d":"r"},{"i":130,"v":-0.179,"d":"g"},{"i":131,"v":-0.118,"d":"g"},{"i":132,"v":-0.032,"d":"g"},{"i":133,"v":0.061,"d":"g"},{"i":134,"v":0.13,"d":"g"},{"i":135,"v":0.156,"d":"g"},{"i":136,"v":0.139,"d":"r"},{"i":137,"v":0.138,"d":"r"},{"i":138,"v":0.133,"d":"r"}
    ],
    "gator": [
      {"i":0,"u":0.456,"uc":"g","n":-0.7,"nc":"g"},{"i":1,"u":0.549,"uc":"g","n":-0.713,"nc":"g"},{"i":2,"u":0.62,"uc":"g","n":-0.596,"nc":"r"},{"i":3,"u":0.62,"uc":"r","n":-0.467,"nc":"r"},{"i":4,"u":0.62,"uc":"r","n":-0.397,"nc":"r"},{"i":5,"u":0.62,"uc":"r","n":-0.35,"nc":"r"},{"i":6,"u":0.549,"uc":"r","n":-0.275,"nc":"r"},{"i":7,"u":0.514,"uc":"r","n":-0.164,"nc":"g"},{"i":8,"u":0.444,"uc":"r","n":-0.117,"nc":"r"},{"i":9,"u":0.374,"uc":"r","n":-0.117,"nc":"r"},
      {"i":10,"u":0.327,"uc":"r","n":-0.117,"nc":"g"},{"i":11,"u":0.286,"uc":"r","n":-0.099,"nc":"r"},{"i":12,"u":0.286,"uc":"r","n":-0.047,"nc":"g"},{"i":13,"u":0.269,"uc":"r","n":-0.099,"nc":"g"},{"i":14,"u":0.234,"uc":"r","n":-0.128,"nc":"g"},{"i":15,"u":0.234,"uc":"g","n":-0.117,"nc":"r"},{"i":16,"u":0.251,"uc":"g","n":-0.117,"nc":"r"},{"i":17,"u":0.251,"uc":"g","n":-0.035,"nc":"r"},{"i":18,"u":0.234,"uc":"r","n":-0.023,"nc":"r"},{"i":19,"u":0.199,"uc":"r","n":-0.058,"nc":"g"},
      {"i":20,"u":0.164,"uc":"r","n":-0.099,"nc":"g"},{"i":21,"u":0.164,"uc":"r","n":-0.199,"nc":"g"},{"i":22,"u":0.175,"uc":"g","n":-0.234,"nc":"g"},{"i":23,"u":0.251,"uc":"g","n":-0.128,"nc":"r"},{"i":24,"u":0.269,"uc":"g","n":-0.058,"nc":"r"},{"i":25,"u":0.251,"uc":"r","n":-0.041,"nc":"r"},{"i":26,"u":0.181,"uc":"r","n":-0.058,"nc":"g"},{"i":27,"u":0.146,"uc":"r","n":-0.041,"nc":"r"},{"i":28,"u":0.129,"uc":"r","n":-0.012,"nc":"r"},{"i":29,"u":0.111,"uc":"r","n":-0.041,"nc":"g"},
      {"i":30,"u":0.076,"uc":"r","n":-0.012,"nc":"r"},{"i":31,"u":0.076,"uc":"r","n":-0.012,"nc":"r"},{"i":32,"u":0.058,"uc":"r","n":-0.023,"nc":"g"},{"i":33,"u":0.076,"uc":"g","n":-0.082,"nc":"g"},{"i":34,"u":0.058,"uc":"r","n":-0.175,"nc":"g"},{"i":35,"u":0.023,"uc":"r","n":-0.275,"nc":"g"},{"i":36,"u":0.023,"uc":"g","n":-0.345,"nc":"g"},{"i":37,"u":0.111,"uc":"g","n":-0.374,"nc":"g"},{"i":38,"u":0.199,"uc":"g","n":-0.362,"nc":"g"},{"i":39,"u":0.251,"uc":"g","n":-0.333,"nc":"r"},
      {"i":40,"u":0.269,"uc":"g","n":-0.345,"nc":"g"},{"i":41,"u":0.269,"uc":"r","n":-0.35,"nc":"g"},{"i":42,"u":0.286,"uc":"g","n":-0.304,"nc":"r"},{"i":43,"u":0.304,"uc":"g","n":-0.216,"nc":"r"},{"i":44,"u":0.304,"uc":"r","n":-0.14,"nc":"r"},{"i":45,"u":0.269,"uc":"r","n":-0.128,"nc":"r"},{"i":46,"u":0.199,"uc":"r","n":-0.128,"nc":"r"},{"i":47,"u":0.181,"uc":"r","n":-0.111,"nc":"r"},{"i":48,"u":0.164,"uc":"r","n":-0.058,"nc":"r"},{"i":49,"u":0.164,"uc":"r","n":-0.041,"nc":"r"},
      {"i":50,"u":0.14,"uc":"r","n":-0.064,"nc":"g"},{"i":51,"u":0.088,"uc":"r","n":-0.064,"nc":"r"},{"i":52,"u":0.035,"uc":"r","n":-0.064,"nc":"g"},{"i":53,"u":0.018,"uc":"r","n":-0.082,"nc":"g"},{"i":54,"u":0.012,"uc":"r","n":-0.082,"nc":"r"},{"i":55,"u":0.004,"uc":"g","n":-0.082,"nc":"g"},{"i":56,"u":0.004,"uc":"g","n":-0.064,"nc":"r"},{"i":57,"u":0.018,"uc":"g","n":-0.01,"nc":"g"},{"i":58,"u":0.004,"uc":"g","n":-0.064,"nc":"g"},{"i":59,"u":0.018,"uc":"g","n":-0.1,"nc":"g"},
      {"i":60,"u":0.053,"uc":"g","n":-0.1,"nc":"g"},{"i":61,"u":0.088,"uc":"g","n":-0.152,"nc":"g"},{"i":62,"u":0.105,"uc":"g","n":-0.187,"nc":"g"},{"i":63,"u":0.14,"uc":"g","n":-0.117,"nc":"r"},{"i":64,"u":0.175,"uc":"g","n":-0.047,"nc":"r"},{"i":65,"u":0.158,"uc":"r","n":-0.134,"nc":"g"},{"i":66,"u":0.053,"uc":"r","n":-0.17,"nc":"g"},{"i":67,"u":0.035,"uc":"r","n":-0.24,"nc":"g"},{"i":68,"u":0.088,"uc":"g","n":-0.327,"nc":"g"},{"i":69,"u":0.158,"uc":"g","n":-0.38,"nc":"g"},
      {"i":70,"u":0.228,"uc":"g","n":-0.38,"nc":"g"},{"i":71,"u":0.298,"uc":"g","n":-0.415,"nc":"g"},{"i":72,"u":0.333,"uc":"g","n":-0.45,"nc":"g"},{"i":73,"u":0.368,"uc":"g","n":-0.362,"nc":"r"},{"i":74,"u":0.403,"uc":"g","n":-0.275,"nc":"r"},{"i":75,"u":0.386,"uc":"r","n":-0.24,"nc":"r"},{"i":76,"u":0.35,"uc":"r","n":-0.222,"nc":"r"},{"i":77,"u":0.315,"uc":"r","n":-0.17,"nc":"r"},{"i":78,"u":0.28,"uc":"r","n":-0.1,"nc":"r"},{"i":79,"u":0.263,"uc":"r","n":-0.064,"nc":"r"},
      {"i":80,"u":0.228,"uc":"r","n":-0.082,"nc":"g"},{"i":81,"u":0.175,"uc":"r","n":-0.152,"nc":"g"},{"i":82,"u":0.123,"uc":"r","n":-0.152,"nc":"g"},{"i":83,"u":0.07,"uc":"r","n":-0.187,"nc":"g"},{"i":84,"u":0.005,"uc":"r","n":-0.205,"nc":"g"},{"i":85,"u":0.053,"uc":"g","n":-0.187,"nc":"r"},{"i":86,"u":0.088,"uc":"g","n":-0.17,"nc":"r"},{"i":87,"u":0.088,"uc":"g","n":-0.117,"nc":"r"},{"i":88,"u":0.088,"uc":"g","n":-0.02,"nc":"r"},{"i":89,"u":0.07,"uc":"r","n":-0.005,"nc":"g"},
      {"i":90,"u":0.018,"uc":"r","n":-0.01,"nc":"g"},{"i":91,"u":0.004,"uc":"r","n":-0.047,"nc":"g"},{"i":92,"u":0.004,"uc":"r","n":-0.047,"nc":"g"},{"i":93,"u":0.004,"uc":"g","n":-0.035,"nc":"g"},{"i":94,"u":0.004,"uc":"g","n":-0.064,"nc":"g"},{"i":95,"u":0.035,"uc":"g","n":-0.082,"nc":"g"},{"i":96,"u":0.035,"uc":"g","n":-0.082,"nc":"g"},{"i":97,"u":0.035,"uc":"g","n":-0.082,"nc":"r"},{"i":98,"u":0.07,"uc":"g","n":-0.005,"nc":"r"},{"i":99,"u":0.07,"uc":"r","n":-0.047,"nc":"g"},
      {"i":100,"u":0.018,"uc":"r","n":-0.005,"nc":"r"},{"i":101,"u":0.005,"uc":"r","n":-0.005,"nc":"g"},{"i":102,"u":0.004,"uc":"g","n":-0.064,"nc":"g"},{"i":103,"u":0.004,"uc":"g","n":-0.134,"nc":"g"},{"i":104,"u":0.047,"uc":"g","n":-0.175,"nc":"g"},{"i":105,"u":0.076,"uc":"g","n":-0.216,"nc":"g"},{"i":106,"u":0.129,"uc":"g","n":-0.275,"nc":"g"},{"i":107,"u":0.164,"uc":"g","n":-0.304,"nc":"g"},{"i":108,"u":0.216,"uc":"g","n":-0.35,"nc":"g"},{"i":109,"u":0.251,"uc":"g","n":-0.352,"nc":"g"},
      {"i":110,"u":0.304,"uc":"g","n":-0.35,"nc":"r"},{"i":111,"u":0.339,"uc":"g","n":-0.339,"nc":"r"},{"i":112,"u":0.356,"uc":"g","n":-0.304,"nc":"r"},{"i":113,"u":0.339,"uc":"r","n":-0.275,"nc":"r"},{"i":114,"u":0.338,"uc":"r","n":-0.234,"nc":"r"},{"i":115,"u":0.321,"uc":"r","n":-0.233,"nc":"r"},{"i":116,"u":0.304,"uc":"r","n":-0.216,"nc":"r"},{"i":117,"u":0.286,"uc":"r","n":-0.187,"nc":"r"},{"i":118,"u":0.285,"uc":"r","n":-0.146,"nc":"r"},{"i":119,"u":0.269,"uc":"r","n":-0.111,"nc":"r"},
      {"i":120,"u":0.251,"uc":"r","n":-0.112,"nc":"g"},{"i":121,"u":0.216,"uc":"r","n":-0.164,"nc":"g"},{"i":122,"u":0.199,"uc":"r","n":-0.111,"nc":"r"},{"i":123,"u":0.216,"uc":"g","n":-0.023,"nc":"r"},{"i":124,"u":0.199,"uc":"r","n":-0.012,"nc":"r"},{"i":125,"u":0.146,"uc":"r","n":-0.041,"nc":"g"},{"i":126,"u":0.111,"uc":"r","n":-0.093,"nc":"g"},{"i":127,"u":0.076,"uc":"r","n":-0.128,"nc":"g"},{"i":128,"u":0.041,"uc":"r","n":-0.181,"nc":"g"},{"i":129,"u":0.023,"uc":"r","n":-0.216,"nc":"g"},
      {"i":130,"u":0.024,"uc":"g","n":-0.269,"nc":"g"},{"i":131,"u":0.058,"uc":"g","n":-0.321,"nc":"g"},{"i":132,"u":0.129,"uc":"g","n":-0.32,"nc":"r"},{"i":133,"u":0.181,"uc":"g","n":-0.286,"nc":"r"},{"i":134,"u":0.216,"uc":"g","n":-0.234,"nc":"r"},{"i":135,"u":0.217,"uc":"g","n":-0.175,"nc":"r"},{"i":136,"u":0.181,"uc":"r","n":-0.117,"nc":"r"},{"i":137,"u":0.164,"uc":"r","n":-0.076,"nc":"r"},{"i":138,"u":0.129,"uc":"r","n":-0.047,"nc":"r"},{"i":139,"u":0.093,"uc":"r","n":-0.035,"nc":"r"},
      {"i":140,"u":0.058,"uc":"r","n":-0.012,"nc":"r"},{"i":141,"u":0.047,"uc":"r","n":-0.058,"nc":"g"},{"i":142,"u":0.041,"uc":"r","n":0,"nc":"r"},{"i":143,"u":0.012,"uc":"r","n":0,"nc":"r"}
    ],
    "labels": [
      {"panel": "ao", "t": "AOcust -0.183"},
      {"panel": "ac", "t": "ACcust 0.1326"},
      {"panel": "gator", "t": "GatorCust 0.016 -0.050"}
    ]
  },
  "vconcat": [
    {
      "width": 1235,
      "height": 471,
      "layer": [
        {
          "data": {"name": "candles"},
          "mark": {"type": "rule", "color": "#000000", "strokeWidth": 1, "clip": true},
          "encoding": {
            "x": {"field": "i", "type": "quantitative", "title": null,
              "scale": {"domain": [-0.0625, 154.3125], "nice": false, "zero": false, "padding": 0},
              "axis": {"values": [0,4,8,12,16,20,24,28,32,36,40,44,48,52,56,60,64,68,72,76,80,84,88,92,96,100,104,108,112,116,120,124,128,132,136,140,144,148,152], "tickCount": 200, "grid": true, "labels": false, "ticks": false}},
            "y": {"field": "l", "type": "quantitative", "title": null,
              "scale": {"domain": [68.305, 71.299], "nice": false, "zero": false, "padding": 0},
              "axis": {"orient": "right", "values": [68.5,68.7,68.9,69.1,69.3,69.5,69.7,69.9,70.1,70.3,70.5,70.7,70.9,71.1], "tickCount": 200, "format": ".2f", "grid": true, "labelPadding": 1.5, "labelOverlap": false}},
            "y2": {"field": "h"}
          }
        },
        {
          "data": {"name": "candles"},
          "mark": {"type": "bar", "width": 4, "stroke": "#000000", "strokeWidth": 1, "clip": true},
          "encoding": {
            "x": {"field": "i", "type": "quantitative", "title": null},
            "y": {"field": "o", "type": "quantitative", "title": null},
            "y2": {"field": "c"},
            "fill": {"condition": {"test": "datum.c >= datum.o", "value": "#ffffff"}, "value": "#000000"}
          }
        },
        {
          "data": {"name": "jaw"},
          "mark": {"type": "line", "color": "#0a4fd6", "strokeWidth": 2, "clip": true},
          "encoding": {
            "x": {"field": "i", "type": "quantitative", "title": null},
            "y": {"field": "v", "type": "quantitative", "title": null}
          }
        },
        {
          "data": {"name": "teeth"},
          "mark": {"type": "line", "color": "#f00000", "strokeWidth": 2, "clip": true},
          "encoding": {
            "x": {"field": "i", "type": "quantitative", "title": null},
            "y": {"field": "v", "type": "quantitative", "title": null}
          }
        },
        {
          "data": {"name": "lips"},
          "mark": {"type": "line", "color": "#11e011", "strokeWidth": 2, "clip": true},
          "encoding": {
            "x": {"field": "i", "type": "quantitative", "title": null},
            "y": {"field": "v", "type": "quantitative", "title": null}
          }
        },
        {
          "data": {"name": "bid"},
          "mark": {"type": "rule", "color": "#e00000", "strokeWidth": 1},
          "encoding": {
            "y": {"field": "p", "type": "quantitative", "title": null}
          }
        },
        {
          "data": {"name": "candles"},
          "transform": [{"filter": "datum.fu"}],
          "mark": {"type": "point", "shape": "M0,-1L0.8,0.85L0,0.35L-0.8,0.85Z", "filled": true, "color": "#b8b8b8", "stroke": "#8c8c8c", "strokeWidth": 0.6, "opacity": 1, "size": 110, "yOffset": -9},
          "encoding": {
            "x": {"field": "i", "type": "quantitative", "title": null},
            "y": {"field": "h", "type": "quantitative", "title": null}
          }
        },
        {
          "data": {"name": "candles"},
          "transform": [{"filter": "datum.fd"}],
          "mark": {"type": "point", "shape": "M0,1L0.8,-0.85L0,-0.35L-0.8,-0.85Z", "filled": true, "color": "#b8b8b8", "stroke": "#8c8c8c", "strokeWidth": 0.6, "opacity": 1, "size": 110, "yOffset": 8},
          "encoding": {
            "x": {"field": "i", "type": "quantitative", "title": null},
            "y": {"field": "l", "type": "quantitative", "title": null}
          }
        },
        {
          "data": {"name": "signals"},
          "mark": {"type": "point", "shape": "M0,-1L0.85,-0.1L0.35,-0.1L0.35,1L-0.35,1L-0.35,-0.1L-0.85,-0.1Z", "filled": true, "color": "#eaffe0", "stroke": "#2fb82f", "strokeWidth": 1.2, "opacity": 1, "size": 330},
          "encoding": {
            "x": {"field": "i", "type": "quantitative", "title": null},
            "y": {"field": "p", "type": "quantitative", "title": null}
          }
        },
        {
          "data": {"name": "bid"},
          "mark": {"type": "point", "shape": "M-1,-0.33L1,-0.33L1,0.33L-1,0.33Z", "filled": true, "color": "#d40000", "opacity": 1, "size": 784},
          "encoding": {
            "x": {"datum": 156.4, "type": "quantitative"},
            "y": {"field": "p", "type": "quantitative", "title": null}
          }
        },
        {
          "data": {"name": "bid"},
          "mark": {"type": "text", "color": "#ffffff", "font": "Liberation Sans", "fontSize": 9.5, "align": "center", "baseline": "middle"},
          "encoding": {
            "x": {"datum": 156.4, "type": "quantitative"},
            "y": {"field": "p", "type": "quantitative", "title": null},
            "text": {"field": "label"}
          }
        }
      ]
    },
    {
      "width": 1235,
      "height": 100,
      "layer": [
        {
          "data": {"name": "ao"},
          "mark": {"type": "bar", "width": 4, "xOffset": -0.5},
          "encoding": {
            "x": {"field": "i", "type": "quantitative", "title": null,
              "scale": {"domain": [-0.0625, 154.3125], "nice": false, "zero": false, "padding": 0},
              "axis": {"values": [0,4,8,12,16,20,24,28,32,36,40,44,48,52,56,60,64,68,72,76,80,84,88,92,96,100,104,108,112,116,120,124,128,132,136,140,144,148,152], "tickCount": 200, "grid": true, "labels": false, "ticks": false}},
            "y": {"field": "v", "type": "quantitative", "title": null,
              "scale": {"domain": [-1.589, 1.041], "nice": false, "zero": false, "padding": 0},
              "axis": {"orient": "right", "values": [1.041, 0, -1.589], "tickCount": 200, "labelExpr": "replace(format(datum.value, '.3f'), '\u2212', '-')", "labelFlush": true, "labelPadding": 1.5, "grid": true, "gridOpacity": {"condition": {"test": "datum.value === 0", "value": 1}, "value": 0}}},
            "y2": {"datum": 0},
            "color": {"field": "d", "type": "nominal", "scale": {"domain": ["g", "r"], "range": ["#008000", "#ff0000"]}, "legend": null}
          }
        },
        {
          "data": {"name": "labels"},
          "transform": [{"filter": "datum.panel === 'ao'"}],
          "mark": {"type": "text", "align": "left", "baseline": "top", "dx": 4, "dy": 4, "font": "Liberation Sans", "fontSize": 9.5, "color": "#000000"},
          "encoding": {
            "x": {"datum": -0.0625, "type": "quantitative"},
            "y": {"datum": 1.041, "type": "quantitative"},
            "text": {"field": "t"}
          }
        }
      ]
    },
    {
      "width": 1235,
      "height": 100,
      "layer": [
        {
          "data": {"name": "ac"},
          "mark": {"type": "bar", "width": 4, "xOffset": -0.5},
          "encoding": {
            "x": {"field": "i", "type": "quantitative", "title": null,
              "scale": {"domain": [-0.0625, 154.3125], "nice": false, "zero": false, "padding": 0},
              "axis": {"values": [0,4,8,12,16,20,24,28,32,36,40,44,48,52,56,60,64,68,72,76,80,84,88,92,96,100,104,108,112,116,120,124,128,132,136,140,144,148,152], "tickCount": 200, "grid": true, "labels": false, "ticks": false}},
            "y": {"field": "v", "type": "quantitative", "title": null,
              "scale": {"domain": [-0.4797, 0.3847], "nice": false, "zero": false, "padding": 0},
              "axis": {"orient": "right", "values": [0.3847, 0, -0.4797], "tickCount": 200, "labelExpr": "replace(format(datum.value, '.4f'), '\u2212', '-')", "labelFlush": true, "labelPadding": 1.5, "grid": true, "gridOpacity": {"condition": {"test": "datum.value === 0", "value": 1}, "value": 0}}},
            "y2": {"datum": 0},
            "color": {"field": "d", "type": "nominal", "scale": {"domain": ["g", "r"], "range": ["#008000", "#ff0000"]}, "legend": null}
          }
        },
        {
          "data": {"name": "labels"},
          "transform": [{"filter": "datum.panel === 'ac'"}],
          "mark": {"type": "text", "align": "left", "baseline": "top", "dx": 4, "dy": 4, "font": "Liberation Sans", "fontSize": 9.5, "color": "#000000"},
          "encoding": {
            "x": {"datum": -0.0625, "type": "quantitative"},
            "y": {"datum": 0.3847, "type": "quantitative"},
            "text": {"field": "t"}
          }
        }
      ]
    },
    {
      "width": 1235,
      "height": 100,
      "layer": [
        {
          "data": {"name": "gator"},
          "mark": {"type": "bar", "width": 4, "xOffset": -0.5},
          "encoding": {
            "x": {"field": "i", "type": "quantitative", "title": null,
              "scale": {"domain": [-0.0625, 154.3125], "nice": false, "zero": false, "padding": 0},
              "axis": {"values": [0,4,8,12,16,20,24,28,32,36,40,44,48,52,56,60,64,68,72,76,80,84,88,92,96,100,104,108,112,116,120,124,128,132,136,140,144,148,152], "tickCount": 200, "grid": true, "ticks": true, "tickSize": 4,
                "tickOpacity": {"condition": {"test": "datum.value % 8 === 0 && datum.value <= 136", "value": 1}, "value": 0},
                "labelExpr": "(datum.value % 8 === 0 && datum.value <= 136) ? ['5 Mar 2025','6 Mar 08:00','6 Mar 16:00','7 Mar 03:00','7 Mar 11:00','7 Mar 19:00','10 Mar 03:00','10 Mar 11:00','10 Mar 19:00','11 Mar 06:00','11 Mar 14:00','11 Mar 22:00','12 Mar 09:00','12 Mar 17:00','13 Mar 04:00','13 Mar 12:00','13 Mar 20:00','14 Mar 07:00'][datum.value / 8] : ''",
                "labelAlign": "left", "labelBaseline": "top", "labelPadding": 1, "labelOffset": -1, "labelFlush": false, "labelOverlap": false, "labelBound": false}},
            "y": {"field": "u", "type": "quantitative", "title": null,
              "scale": {"domain": [-0.851, 0.896], "nice": false, "zero": false, "padding": 0},
              "axis": {"orient": "right", "values": [0.896, 0, -0.851], "tickCount": 200, "labelExpr": "replace(format(datum.value, '.3f'), '\u2212', '-')", "labelFlush": true, "labelPadding": 1.5, "grid": true, "gridOpacity": {"condition": {"test": "datum.value === 0", "value": 1}, "value": 0}}},
            "y2": {"datum": 0},
            "color": {"field": "uc", "type": "nominal", "scale": {"domain": ["g", "r"], "range": ["#008000", "#ff0000"]}, "legend": null}
          }
        },
        {
          "data": {"name": "gator"},
          "mark": {"type": "bar", "width": 4, "xOffset": -0.5},
          "encoding": {
            "x": {"field": "i", "type": "quantitative", "title": null},
            "y": {"field": "n", "type": "quantitative", "title": null},
            "y2": {"datum": 0},
            "color": {"field": "nc", "type": "nominal", "legend": null}
          }
        },
        {
          "data": {"name": "gator"},
          "mark": {"type": "rule", "color": "#e6e6e6", "strokeWidth": 1, "strokeDash": [3, 3]},
          "encoding": {"y": {"datum": 0, "type": "quantitative"}}
        },
        {
          "data": {"name": "labels"},
          "transform": [{"filter": "datum.panel === 'gator'"}],
          "mark": {"type": "text", "align": "left", "baseline": "top", "dx": 4, "dy": 4, "font": "Liberation Sans", "fontSize": 9.5, "color": "#000000"},
          "encoding": {
            "x": {"datum": -0.0625, "type": "quantitative"},
            "y": {"datum": 0.896, "type": "quantitative"},
            "text": {"field": "t"}
          }
        }
      ]
    }
  ]
}
